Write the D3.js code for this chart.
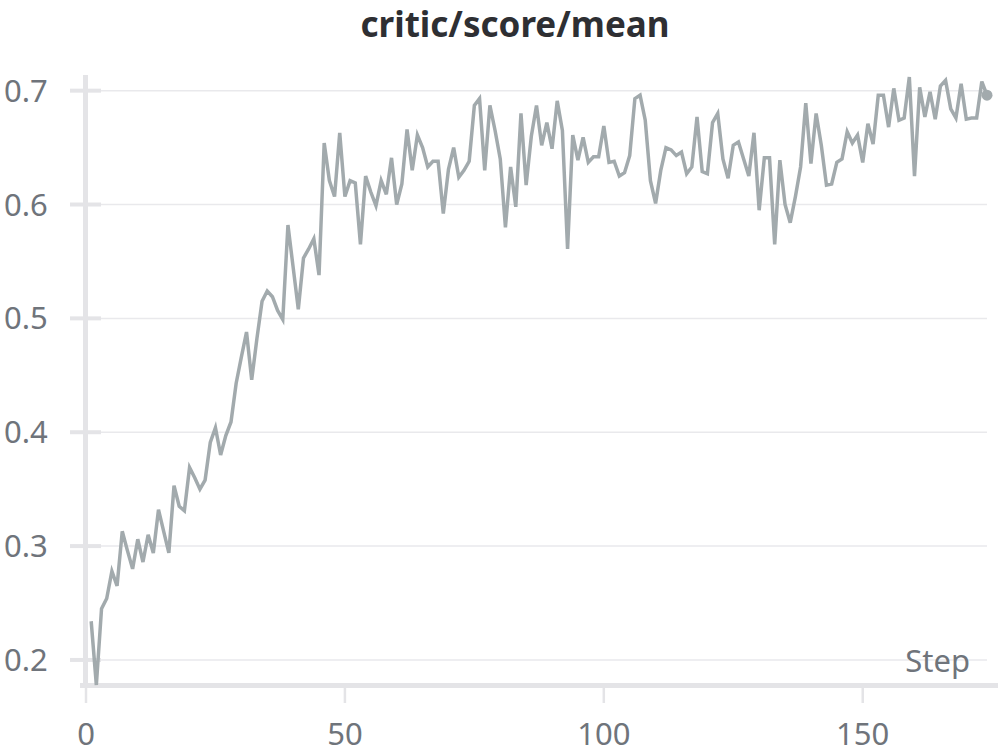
<!DOCTYPE html>
<html>
<head>
<meta charset="utf-8">
<script src="https://cdn.jsdelivr.net/npm/d3@7"></script>
<style>
  html, body { margin: 0; padding: 0; background: #fff; }
  text { font-family: "Noto Sans", "Open Sans", sans-serif; }
  .tick-label { fill: #6f747b; font-size: 31px; }
  .plot-title { fill: #2e2f33; font-size: 35px; font-weight: 700; }
</style>
</head>
<body>
<svg id="chart" width="998" height="754"></svg>
<script>
// values, steps 1..174
const steps = d3.range(1, 175);
const scores = [
  0.234, 0.178, 0.245, 0.254, 0.278, 0.265, 0.313, 0.296, 0.280, 0.306,
  0.286, 0.310, 0.294, 0.332, 0.313, 0.294, 0.353, 0.335, 0.331, 0.369,
  0.360, 0.350, 0.358, 0.391, 0.404, 0.380, 0.397, 0.409, 0.443, 0.466,
  0.488, 0.446, 0.482, 0.515, 0.524, 0.519, 0.507, 0.499, 0.582, 0.545,
  0.508, 0.553, 0.561, 0.570, 0.538, 0.654, 0.621, 0.607, 0.663, 0.607,
  0.621, 0.619, 0.565, 0.625, 0.611, 0.599, 0.621, 0.609, 0.641, 0.600,
  0.618, 0.666, 0.630, 0.661, 0.650, 0.633, 0.638, 0.638, 0.592, 0.631,
  0.650, 0.624, 0.630, 0.638, 0.687, 0.693, 0.630, 0.687, 0.665, 0.640,
  0.580, 0.633, 0.598, 0.680, 0.617, 0.660, 0.687, 0.652, 0.672, 0.649,
  0.691, 0.665, 0.561, 0.661, 0.639, 0.659, 0.637, 0.642, 0.642, 0.669,
  0.637, 0.638, 0.625, 0.628, 0.643, 0.693, 0.696, 0.674, 0.621, 0.601,
  0.630, 0.650, 0.648, 0.643, 0.646, 0.627, 0.633, 0.677, 0.629, 0.627,
  0.672, 0.680, 0.640, 0.623, 0.652, 0.655, 0.640, 0.625, 0.663, 0.595,
  0.641, 0.641, 0.565, 0.639, 0.600, 0.584, 0.607, 0.633, 0.689, 0.636,
  0.680, 0.652, 0.617, 0.618, 0.637, 0.640, 0.664, 0.654, 0.661, 0.637,
  0.671, 0.653, 0.696, 0.696, 0.668, 0.702, 0.674, 0.676, 0.712, 0.625,
  0.703, 0.677, 0.699, 0.675, 0.704, 0.709, 0.684, 0.676, 0.706, 0.675,
  0.676, 0.676, 0.708, 0.696
];
const xTicks = [0, 50, 100, 150];
const yTicks = [0.2, 0.3, 0.4, 0.5, 0.6, 0.7];
const title = "critic/score/mean";
const xTitle = "Step";

const svg = d3.select("#chart");
const data = steps.map((s, i) => ({ step: s, value: scores[i] }));

const xScale = d3.scaleLinear().domain([0, 174]).range([86, 987]);
const yScale = d3.scaleLinear().domain(d3.extent(scores)).range([685, 77]);

const gridColor = "#e9e9ec";
const axisColor = "#e4e4e7";

// gridlines
svg.append("g")
  .selectAll("line")
  .data(yTicks)
  .join("line")
  .attr("x1", 86)
  .attr("x2", 987)
  .attr("y1", (d) => yScale(d))
  .attr("y2", (d) => yScale(d))
  .attr("stroke", gridColor)
  .attr("stroke-width", 1.5);

// y tick marks
svg.append("g")
  .selectAll("line")
  .data(yTicks)
  .join("line")
  .attr("x1", 70)
  .attr("x2", 101)
  .attr("y1", (d) => yScale(d))
  .attr("y2", (d) => yScale(d))
  .attr("stroke", axisColor)
  .attr("stroke-width", 4);

// x tick marks
svg.append("g")
  .selectAll("line")
  .data(xTicks)
  .join("line")
  .attr("x1", (d) => xScale(d))
  .attr("x2", (d) => xScale(d))
  .attr("y1", 684)
  .attr("y2", 703)
  .attr("stroke", axisColor)
  .attr("stroke-width", 2.5);

// axis bars
svg.append("line")
  .attr("x1", 85.5).attr("x2", 85.5)
  .attr("y1", 75).attr("y2", 688)
  .attr("stroke", axisColor).attr("stroke-width", 5);
svg.append("line")
  .attr("x1", 80).attr("x2", 998)
  .attr("y1", 685.5).attr("y2", 685.5)
  .attr("stroke", axisColor).attr("stroke-width", 5);

// labels
svg.append("g")
  .selectAll("text")
  .data(yTicks)
  .join("text")
  .attr("class", "tick-label")
  .attr("x", 4)
  .attr("y", (d) => yScale(d) + 11)
  .text((d) => d3.format(".1f")(d));

svg.append("g")
  .selectAll("text")
  .data(xTicks)
  .join("text")
  .attr("class", "tick-label")
  .attr("x", (d) => xScale(d))
  .attr("y", 745)
  .attr("text-anchor", "middle")
  .text((d) => d);

svg.append("text")
  .attr("class", "tick-label")
  .attr("x", 970)
  .attr("y", 672)
  .attr("text-anchor", "end")
  .text(xTitle);

svg.append("text")
  .attr("class", "plot-title")
  .attr("x", 515)
  .attr("y", 37)
  .attr("text-anchor", "middle")
  .text(title);

// the run line
const line = d3.line()
  .x((d) => xScale(d.step))
  .y((d) => yScale(d.value));

svg.append("path")
  .datum(data)
  .attr("d", line)
  .attr("fill", "none")
  .attr("stroke", "#a2aaad")
  .attr("stroke-width", 3.5)
  .attr("stroke-linejoin", "miter");

const last = data[data.length - 1];
svg.append("circle")
  .attr("cx", xScale(last.step))
  .attr("cy", yScale(last.value))
  .attr("r", 5.5)
  .attr("fill", "#a2aaad");
</script>
</body>
</html>
